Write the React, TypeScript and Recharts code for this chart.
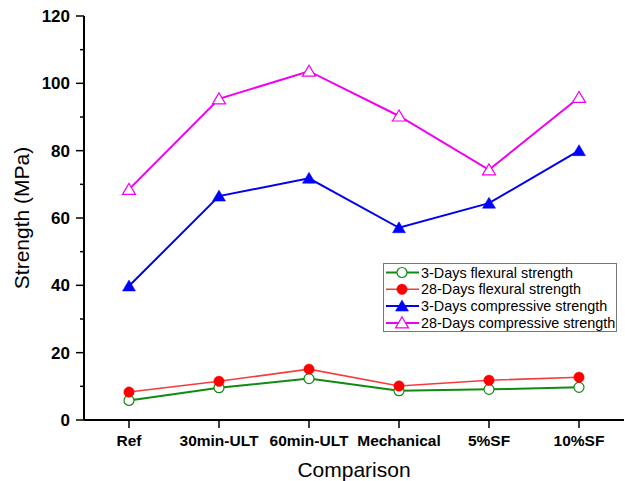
import React from "react";
import {
  LineChart,
  Line,
  XAxis,
  YAxis,
  Legend,
} from "recharts";

const categories = ["Ref", "30min-ULT", "60min-ULT", "Mechanical", "5%SF", "10%SF"];
const flex3 = [5.8, 9.6, 12.3, 8.7, 9.1, 9.7];
const flex28 = [8.3, 11.5, 15.1, 10.1, 11.8, 12.7];
const comp3 = [39.8, 66.5, 71.8, 57.1, 64.4, 80.0];
const comp28 = [68.5, 95.4, 103.6, 90.3, 74.3, 95.8];
const yTicks = [0, 10, 20, 30, 40, 50, 60, 70, 80, 90, 100, 110, 120];

const data = categories.map((name, i) => ({
  name,
  flex3: flex3[i],
  flex28: flex28[i],
  comp3: comp3[i],
  comp28: comp28[i],
}));

const FONT = "Arial, 'Liberation Sans', sans-serif";

type Marker = "openCircle" | "circle" | "triangle" | "openTriangle";

const drawMarker = (kind: Marker, cx: number, cy: number, color: string, key?: string) => {
  if (kind === "openCircle") {
    return <circle key={key} cx={cx} cy={cy} r={5} fill="#fff" stroke={color} strokeWidth={1.2} />;
  }
  if (kind === "circle") {
    return <circle key={key} cx={cx} cy={cy} r={5.2} fill={color} stroke={color} strokeWidth={0.5} />;
  }
  const pts = `${cx},${cy - 6} ${cx - 6.5},${cy + 5} ${cx + 6.5},${cy + 5}`;
  if (kind === "triangle") {
    return <polygon key={key} points={pts} fill={color} stroke={color} strokeWidth={0.5} />;
  }
  return <polygon key={key} points={pts} fill="#fff" stroke={color} strokeWidth={1.2} />;
};

const series: { key: string; label: string; color: string; width: number; marker: Marker }[] = [
  { key: "flex3", label: "3-Days flexural strength", color: "#118a11", width: 2, marker: "openCircle" },
  { key: "flex28", label: "28-Days flexural strength", color: "#f53c3c", width: 1.6, marker: "circle" },
  { key: "comp3", label: "3-Days compressive strength", color: "#0000f0", width: 2, marker: "triangle" },
  { key: "comp28", label: "28-Days compressive strength", color: "#f000f0", width: 2, marker: "openTriangle" },
];

const markerColors: Record<string, string> = {
  flex3: "#118a11",
  flex28: "#ff0000",
  comp3: "#0000ff",
  comp28: "#f000f0",
};

const YTick = ({ x, y, payload }: any) => {
  const major = payload.value % 20 === 0;
  return (
    <g>
      <line x1={x - (major ? 8 : 4)} x2={x} y1={y} y2={y} stroke="#000" strokeWidth={1.5} />
      {major && (
        <text
          x={x - 14}
          y={y}
          dy="0.36em"
          textAnchor="end"
          fontFamily={FONT}
          fontWeight="bold"
          fontSize={17}
          fill="#000"
        >
          {payload.value}
        </text>
      )}
    </g>
  );
};

const XTick = ({ x, y, payload }: any) => (
  <g>
    <line x1={x} x2={x} y1={y} y2={y + 8} stroke="#000" strokeWidth={1.5} />
    <text
      x={x}
      y={y + 26}
      textAnchor="middle"
      fontFamily={FONT}
      fontWeight="bold"
      fontSize={15.5}
      fill="#000"
    >
      {payload.value}
    </text>
  </g>
);

const LegendBox = () => (
  <svg width={234} height={70} style={{ display: "block" }}>
    <rect x={0.5} y={0.5} width={233} height={68} fill="#fff" stroke="#777" strokeWidth={1} />
    {series.map((s, i) => {
      const cy = 9.5 + i * 16.8;
      return (
        <g key={s.key}>
          <line x1={3} x2={36} y1={cy} y2={cy} stroke={s.color} strokeWidth={s.width} />
          {drawMarker(s.marker, 19, cy, markerColors[s.key])}
          <text
            x={38}
            y={cy}
            dy="0.35em"
            fontFamily={FONT}
            fontSize={14.4}
            fill="#000"
          >
            {s.label}
          </text>
        </g>
      );
    })}
  </svg>
);

export default function App() {
  return (
    <div style={{ position: "absolute", left: 0, top: 0, background: "#fff" }}>
      <LineChart
        width={625}
        height={481}
        data={data}
        margin={{ top: 16, right: 1, left: 0, bottom: 0 }}
      >
        <XAxis
          dataKey="name"
          padding={{ left: 45, right: 45 }}
          height={61}
          tickSize={0}
          tickMargin={0}
          interval={0}
          tick={<XTick />}
          tickLine={false}
          axisLine={{ stroke: "#000", strokeWidth: 2 }}
          label={{
            value: "Comparison",
            position: "insideBottom",
            offset: 4,
            fontFamily: FONT,
            fontSize: 21,
            fill: "#000",
          }}
        />
        <XAxis
          xAxisId="top"
          dataKey="name"
          orientation="top"
          height={0}
          tick={false}
          tickLine={false}
          axisLine={{ stroke: "#000", strokeWidth: 2 }}
        />
        <YAxis
          domain={[0, 120]}
          ticks={yTicks}
          interval={0}
          width={84}
          tickSize={0}
          tickMargin={0}
          tick={<YTick />}
          tickLine={false}
          axisLine={{ stroke: "#000", strokeWidth: 2 }}
          label={{
            value: "Strength (MPa)",
            angle: -90,
            position: "insideLeft",
            offset: 22,
            style: { textAnchor: "middle" },
            fontFamily: FONT,
            fontSize: 21,
            fill: "#000",
          }}
        />
        <YAxis
          yAxisId="right"
          orientation="right"
          domain={[0, 120]}
          width={0}
          tick={false}
          tickLine={false}
          axisLine={{ stroke: "#000", strokeWidth: 2 }}
        />
        <Legend
          verticalAlign="middle"
          wrapperStyle={{ position: "absolute", left: 383, top: 263, width: 234, height: 70 }}
          content={() => <LegendBox />}
        />
        {series.map((s) => (
          <Line
            key={s.key}
            type="linear"
            dataKey={s.key}
            stroke={s.color}
            strokeWidth={s.width}
            isAnimationActive={false}
            dot={(p: any) => drawMarker(s.marker, p.cx, p.cy, markerColors[s.key], `${s.key}-${p.index}`)}
            activeDot={false}
          />
        ))}
      </LineChart>
    </div>
  );
}
